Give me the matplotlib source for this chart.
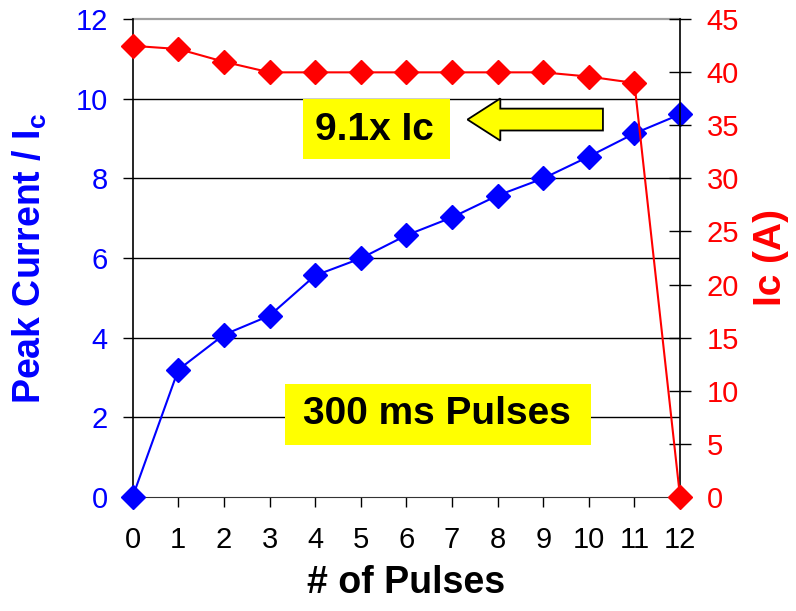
import matplotlib
matplotlib.use("Agg")
import matplotlib.pyplot as plt
import matplotlib.patches as mpatches

plt.rcParams["font.family"] = ["Liberation Sans", "DejaVu Sans"]
plt.rcParams["mathtext.fontset"] = "custom"
plt.rcParams["mathtext.rm"] = "Liberation Sans"
plt.rcParams["mathtext.bf"] = "Liberation Sans:bold"

# data
pulses = [0, 1, 2, 3, 4, 5, 6, 7, 8, 9, 10, 11, 12]
peak_ratio = [0.0, 3.19, 4.07, 4.55, 5.56, 5.99, 6.57, 7.02, 7.57, 8.0, 8.55, 9.13, 9.61]
ic_amps = [42.5, 42.2, 41.0, 40.0, 40.0, 40.0, 40.0, 40.0, 40.0, 40.0, 39.6, 39.0, 0.0]
left_ticks = [0, 2, 4, 6, 8, 10, 12]
right_ticks = [0, 5, 10, 15, 20, 25, 30, 35, 40, 45]

BLUE = "#0000ff"
RED = "#ff0000"
YELLOW = "#ffff00"

fig = plt.figure(figsize=(7.96, 6.11), dpi=100)
ax = fig.add_axes([0.1667, 0.1871, 0.6876, 0.7813])
ax2 = ax.twinx()

for y in left_ticks[1:-1]:
    ax.axhline(y, color="black", lw=1.0, zorder=0)
ax.axhline(left_ticks[-1], color="#a0a0a0", lw=1.6, zorder=0, clip_on=False)

ax.plot(pulses, peak_ratio, color=BLUE, lw=1.5, marker="D", ms=12.5,
        clip_on=False, zorder=5)
ax2.plot(pulses, ic_amps, color=RED, lw=1.5, marker="D", ms=12.5,
         clip_on=False, zorder=5)

ax.set_xlim(0, 12)
ax.set_ylim(0, 12)
ax2.set_ylim(0, 45)
ax.set_xticks(pulses)
ax.set_yticks(left_ticks)
ax2.set_yticks(right_ticks)

ax.tick_params(axis="x", labelsize=21, colors="black", length=7, width=1, pad=14)
ax.tick_params(axis="y", labelsize=21, labelcolor=BLUE, length=7, width=1, pad=11)
ax2.tick_params(axis="y", labelsize=21, labelcolor=RED, length=16, width=1,
                direction="inout", pad=11)

for a in (ax, ax2):
    a.spines["top"].set_visible(False)
ax.spines["right"].set_visible(False)
ax2.spines["left"].set_visible(False)
ax2.spines["bottom"].set_visible(False)
ax2.spines["right"].set_linewidth(1.2)
ax.spines["left"].set_linewidth(1.2)
ax.spines["bottom"].set_color("#333333")

ax.set_xlabel("# of Pulses", fontsize=27, fontweight="bold", labelpad=8)
ax.set_ylabel(r"Peak Current / I$_\mathbf{c}$", fontsize=27, fontweight="bold",
              color=BLUE, labelpad=19)
ax2.set_ylabel("Ic (A)", fontsize=28, fontweight="bold", color=RED, labelpad=10)

# annotations, placed in the left-axis data frame (0..12 on both axes)
tr = ax.transData
ax2.add_patch(mpatches.Rectangle((3.73, 8.48), 3.22, 1.52, transform=tr,
                                 fc=YELLOW, ec="none", zorder=6))
ax2.text(5.3, 9.23, "9.1x Ic", transform=tr, fontsize=28, fontweight="bold",
         ha="center", va="center", zorder=7)

ax2.add_patch(mpatches.Rectangle((3.34, 1.30), 6.71, 1.53, transform=tr,
                                 fc=YELLOW, ec="none", zorder=6))
ax2.text(6.67, 2.09, "300 ms Pulses", transform=tr, fontsize=28,
         fontweight="bold", ha="center", va="center", zorder=7)

ax2.add_patch(mpatches.FancyArrow(10.31, 9.48, -2.97, 0, width=0.55,
                                  head_width=1.06, head_length=0.72,
                                  length_includes_head=True, transform=tr,
                                  fc=YELLOW, ec="black", lw=1.3, zorder=7))

fig.savefig("out.png", dpi=100)
